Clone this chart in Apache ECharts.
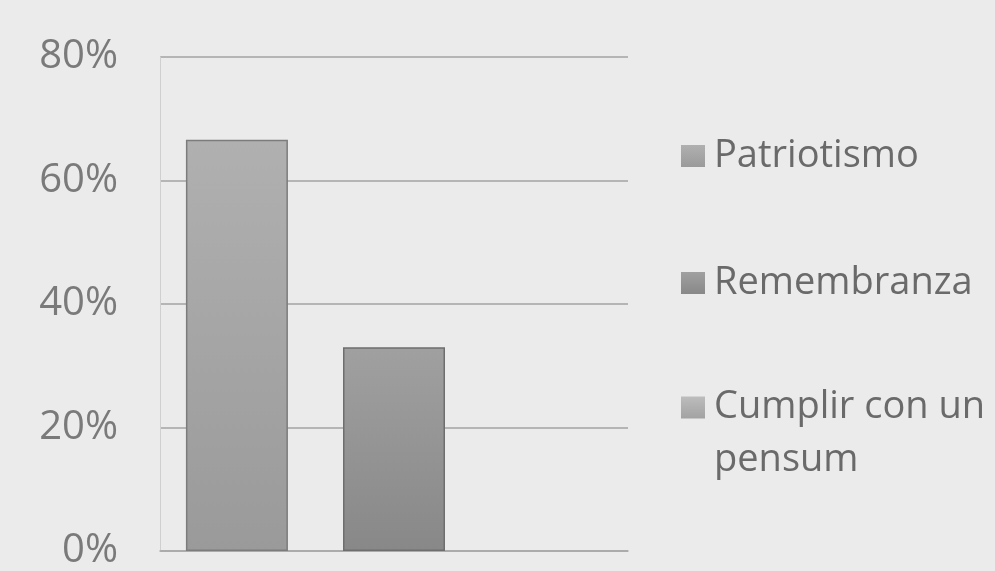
<!DOCTYPE html>
<html>
<head>
<meta charset="utf-8">
<script src="https://cdn.jsdelivr.net/npm/echarts@6/dist/echarts.min.js"></script>
<style>
html,body{margin:0;padding:0;background:#ebebeb;}
#chart{width:995px;height:571px;}
</style>
</head>
<body>
<div id="chart"></div>
<script>
const categories = [''];
const seriesNames = ['Patriotismo', 'Remembranza', 'Cumplir con un pensum'];
const patriotismo = [66.6];
const remembranza = [33];
const cumplir = [0];
const yTicks = [0, 20, 40, 60, 80];

const colors = [
  {top:'#b0b0b0', bottom:'#9a9a9a', border:'#7c7c7c'},
  {top:'#a0a0a0', bottom:'#888888', border:'#6e6e6e'},
  {top:'#bdbdbd', bottom:'#a2a2a2', border:'#8a8a8a'}
];
function grad(c){
  return new echarts.graphic.LinearGradient(0,0,0,1,[{offset:0,color:c.top},{offset:1,color:c.bottom}]);
}
const values = [patriotismo, remembranza, cumplir];

const chart = echarts.init(document.getElementById('chart'));
const font = '"Open Sans", "Noto Sans", sans-serif';
const legendTops = [129, 256, 323];
const legendText = {color: '#6a6a6a', fontSize: 38, fontFamily: font};
chart.setOption({
  backgroundColor: '#ebebeb',
  animation: false,
  grid: {left: 160, right: 367, top: 57, bottom: 17, containLabel: false},
  xAxis: {
    type: 'category',
    data: categories,
    axisLine: {show: true, lineStyle: {color: '#a8a8a8', width: 1.5}},
    axisTick: {show: false},
    axisLabel: {show: false}
  },
  yAxis: {
    type: 'value',
    min: yTicks[0],
    max: yTicks[yTicks.length - 1],
    interval: 20,
    axisLine: {show: true, lineStyle: {color: '#cfcfcf', width: 1}},
    axisTick: {show: false},
    splitLine: {show: true, lineStyle: {color: '#a3a3a3', width: 1.5}},
    axisLabel: {
      margin: 42,
      formatter: v => v + '%',
      color: '#7a7a7a',
      fontSize: 40,
      fontFamily: font
    }
  },
  legend: seriesNames.map((n, i) => ({
    orient: 'vertical',
    left: 676,
    top: legendTops[i],
    icon: 'rect',
    itemWidth: 24,
    itemHeight: 22,
    itemStyle: {borderWidth: 0},
    textStyle: Object.assign({}, legendText, {lineHeight: i === 2 ? 53 : 44, padding: [0, 0, 0, 4]}),
    data: [n],
    formatter: name => name === 'Cumplir con un pensum' ? '\nCumplir con un\npensum' : name
  })),
  series: seriesNames.map((n, i) => ({
    name: n,
    type: 'bar',
    data: values[i],
    barWidth: 102,
    barGap: '54%',
    itemStyle: {color: grad(colors[i]), borderColor: colors[i].border, borderWidth: values[i][0] > 0 ? 1.5 : 0}
  }))
});
</script>
</body>
</html>
